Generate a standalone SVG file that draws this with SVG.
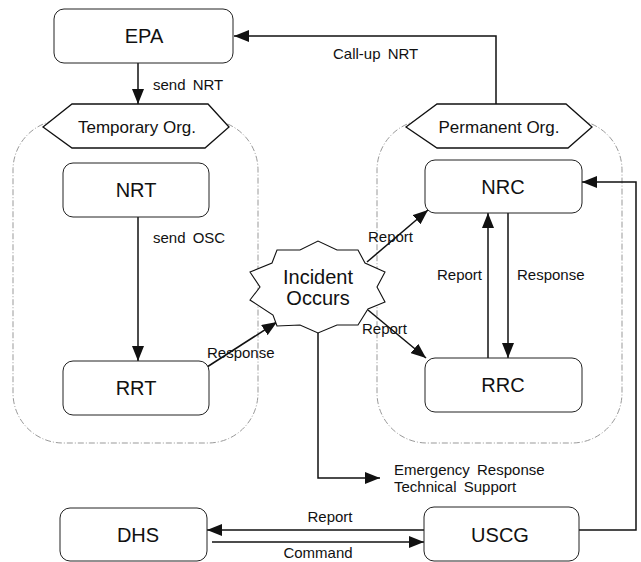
<svg xmlns="http://www.w3.org/2000/svg" width="641" height="562" viewBox="0 0 641 562">
<style>
.box{fill:#fff;stroke:#222;stroke-width:1}
.cont{fill:none;stroke:#999;stroke-width:1;stroke-dasharray:6 2 1 2}
.hex{fill:#fff;stroke:#111;stroke-width:1.3}
.ln{fill:none;stroke:#111;stroke-width:1.5}
.big{font-family:"Liberation Sans",Arial,sans-serif;font-size:20px;fill:#111;text-anchor:middle}
.mid{font-family:"Liberation Sans",Arial,sans-serif;font-size:17px;fill:#111;text-anchor:middle}
.lbl{font-family:"Liberation Sans",Arial,sans-serif;font-size:15px;fill:#111;word-spacing:3px}
</style>
<defs>
<marker id="ah" markerUnits="userSpaceOnUse" markerWidth="16" markerHeight="12" refX="15" refY="6" orient="auto">
<path d="M0,0 L15,6 L0,12 z" fill="#111"/>
</marker>
</defs>
<rect width="641" height="562" fill="#fff"/>
<g id="containers">
<rect class="cont" x="13" y="120" width="245" height="323" rx="50"/>
<rect class="cont" x="377" y="120" width="245" height="323" rx="50"/>
</g>
<g id="connectors">
<line class="ln" x1="138" y1="63" x2="138" y2="104" marker-end="url(#ah)"/>
<text class="lbl" x="153" y="90">send NRT</text>
<polyline class="ln" points="496,104 496,36 234,36" marker-end="url(#ah)"/>
<text class="lbl" x="333" y="59">Call-up NRT</text>
<line class="ln" x1="138" y1="217" x2="138" y2="361" marker-end="url(#ah)"/>
<text class="lbl" x="153" y="243">send OSC</text>
<line class="ln" x1="207" y1="367" x2="277" y2="322" marker-end="url(#ah)"/>
<text class="lbl" x="207" y="358">Response</text>
<line class="ln" x1="367" y1="262" x2="428" y2="210" marker-end="url(#ah)"/>
<text class="lbl" x="368" y="242">Report</text>
<line class="ln" x1="368" y1="310" x2="426" y2="358" marker-end="url(#ah)"/>
<text class="lbl" x="362" y="334">Report</text>
<line class="ln" x1="488" y1="358" x2="488" y2="213" marker-end="url(#ah)"/>
<text class="lbl" x="437" y="280">Report</text>
<line class="ln" x1="508" y1="213" x2="508" y2="358" marker-end="url(#ah)"/>
<text class="lbl" x="517" y="280">Response</text>
<polyline class="ln" points="318,333 318,478 380,478" marker-end="url(#ah)"/>
<text class="lbl" x="394" y="475">Emergency Response</text>
<text class="lbl" x="394" y="492">Technical Support</text>
<polyline class="ln" points="579,530 636,530 636,182 582,182" marker-end="url(#ah)"/>
<line class="ln" x1="424" y1="530" x2="207" y2="530" marker-end="url(#ah)"/>
<text class="lbl" x="330" y="522" text-anchor="middle">Report</text>
<line class="ln" x1="212" y1="542" x2="424" y2="542" marker-end="url(#ah)"/>
<text class="lbl" x="318" y="558" text-anchor="middle">Command</text>
</g>
<g id="EPA">
<rect class="box" x="54" y="9" width="179" height="54" rx="10"/>
<text class="big" x="144" y="43">EPA</text>
</g>
<g id="TemporaryOrg">
<polygon class="hex" points="43,127 72,104 208,104 229,127 205,148 72,148"/>
<text class="mid" x="137" y="133">Temporary Org.</text>
</g>
<g id="PermanentOrg">
<polygon class="hex" points="406,127 437,104 566,104 592,127 568,148 437,148"/>
<text class="mid" x="499" y="133">Permanent Org.</text>
</g>
<g id="NRT">
<rect class="box" x="63" y="163" width="146" height="54" rx="10"/>
<text class="big" x="136" y="197">NRT</text>
</g>
<g id="RRT">
<rect class="box" x="63" y="361" width="146" height="54" rx="10"/>
<text class="big" x="136" y="395">RRT</text>
</g>
<g id="NRC">
<rect class="box" x="425" y="160" width="157" height="53" rx="10"/>
<text class="big" x="503" y="194">NRC</text>
</g>
<g id="RRC">
<rect class="box" x="425" y="358" width="157" height="54" rx="10"/>
<text class="big" x="503" y="392">RRC</text>
</g>
<g id="Incident">
<polygon class="hex" style="stroke-width:1.1" points="277,250 300,250 318,241 337,250 358,250 365,263 385,272 377,287 385,302 368,309 358,325 337,325 318,333 300,325 277,326 273,315 250,300 260,287 250,272 272,263"/>
<text class="big" x="318" y="284">Incident</text>
<text class="big" x="318" y="305">Occurs</text>
</g>
<g id="DHS">
<rect class="box" x="60" y="508" width="147" height="53" rx="10"/>
<text class="big" x="138" y="542">DHS</text>
</g>
<g id="USCG">
<rect class="box" x="424" y="507" width="155" height="54" rx="10"/>
<text class="big" x="500" y="542">USCG</text>
</g>
</svg>
